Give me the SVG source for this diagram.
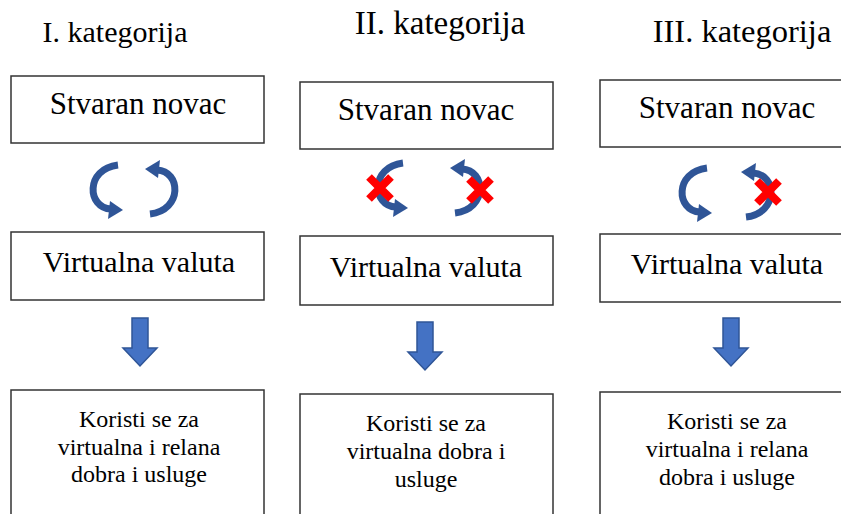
<svg xmlns="http://www.w3.org/2000/svg" xmlns:xlink="http://www.w3.org/1999/xlink" width="841" height="514" viewBox="0 0 841 514">
<style>
.box{fill:#fff;stroke:#333;stroke-width:1.5}
.t{font-family:"Liberation Serif","Times New Roman",serif;fill:#000;text-anchor:middle}
.nov{font-size:31px}
.val{font-size:30px}
.small{font-size:24px}
</style>
<defs>
<g id="cyc">
<path d="M 11,-24 C -22,-20 -20,19 4,20" fill="none" stroke="#2f5597" stroke-width="7"/>
<polygon points="16,21 3,12 1,30" fill="#2f5597"/>
</g>
<g id="xx">
<path d="M -11,-11 L 11,11 M 11,-11 L -11,11" stroke="#ff0000" stroke-width="8"/>
</g>
<polygon id="down" points="-8,0 8,0 8,30 17,30 0,48 -17,30 -8,30" fill="#4472c4" stroke="#2f5597" stroke-width="1.5"/>
</defs>
<rect width="841" height="514" fill="#fff"/>

<g id="title1"><text class="t" font-size="30" x="115" y="42">I. kategorija</text></g>
<g id="title2"><text class="t" font-size="33" x="440" y="34">II. kategorija</text></g>
<g id="title3"><text class="t" font-size="32.5" x="742" y="42">III. kategorija</text></g>

<g id="novac1"><rect class="box" x="11" y="76" width="253" height="67"/><text class="t nov" x="138" y="114">Stvaran novac</text></g>
<g id="novac2"><rect class="box" x="300" y="82" width="253" height="67"/><text class="t nov" x="426" y="120">Stvaran novac</text></g>
<g id="novac3"><rect class="box" x="600" y="80" width="253" height="67"/><text class="t nov" x="727" y="118">Stvaran novac</text></g>

<g id="valuta1"><rect class="box" x="11" y="232" width="253" height="68"/><text class="t val" x="139" y="272">Virtualna valuta</text></g>
<g id="valuta2"><rect class="box" x="300" y="236" width="253" height="69"/><text class="t val" x="426" y="277">Virtualna valuta</text></g>
<g id="valuta3"><rect class="box" x="600" y="234" width="253" height="68"/><text class="t val" x="727" y="274">Virtualna valuta</text></g>

<g id="koristi1"><rect class="box" x="11" y="390" width="253" height="140"/>
<text class="t small" x="139" y="427">Koristi se za</text>
<text class="t small" x="139" y="455">virtualna i relana</text>
<text class="t small" x="139" y="482">dobra i usluge</text></g>
<g id="koristi2"><rect class="box" x="300" y="394" width="253" height="140"/>
<text class="t small" x="426" y="431">Koristi se za</text>
<text class="t small" x="426" y="459">virtualna dobra i</text>
<text class="t small" x="426" y="487">usluge</text></g>
<g id="koristi3"><rect class="box" x="600" y="392" width="253" height="140"/>
<text class="t small" x="727" y="429">Koristi se za</text>
<text class="t small" x="727" y="457">virtualna i relana</text>
<text class="t small" x="727" y="485">dobra i usluge</text></g>

<g id="connectors">
<use xlink:href="#cyc" transform="translate(107,189)"/>
<use xlink:href="#cyc" transform="translate(161,190) rotate(180)"/>
<use xlink:href="#cyc" transform="translate(392,187)"/>
<use xlink:href="#cyc" transform="translate(466,189) rotate(180)"/>
<use xlink:href="#cyc" transform="translate(696,192)"/>
<use xlink:href="#cyc" transform="translate(757,193) rotate(180)"/>
<use xlink:href="#xx" transform="translate(380,188)"/>
<use xlink:href="#xx" transform="translate(480,190)"/>
<use xlink:href="#xx" transform="translate(768,192)"/>
<use xlink:href="#down" transform="translate(140,318)"/>
<use xlink:href="#down" transform="translate(425,322)"/>
<use xlink:href="#down" transform="translate(731,318)"/>
</g>
</svg>
